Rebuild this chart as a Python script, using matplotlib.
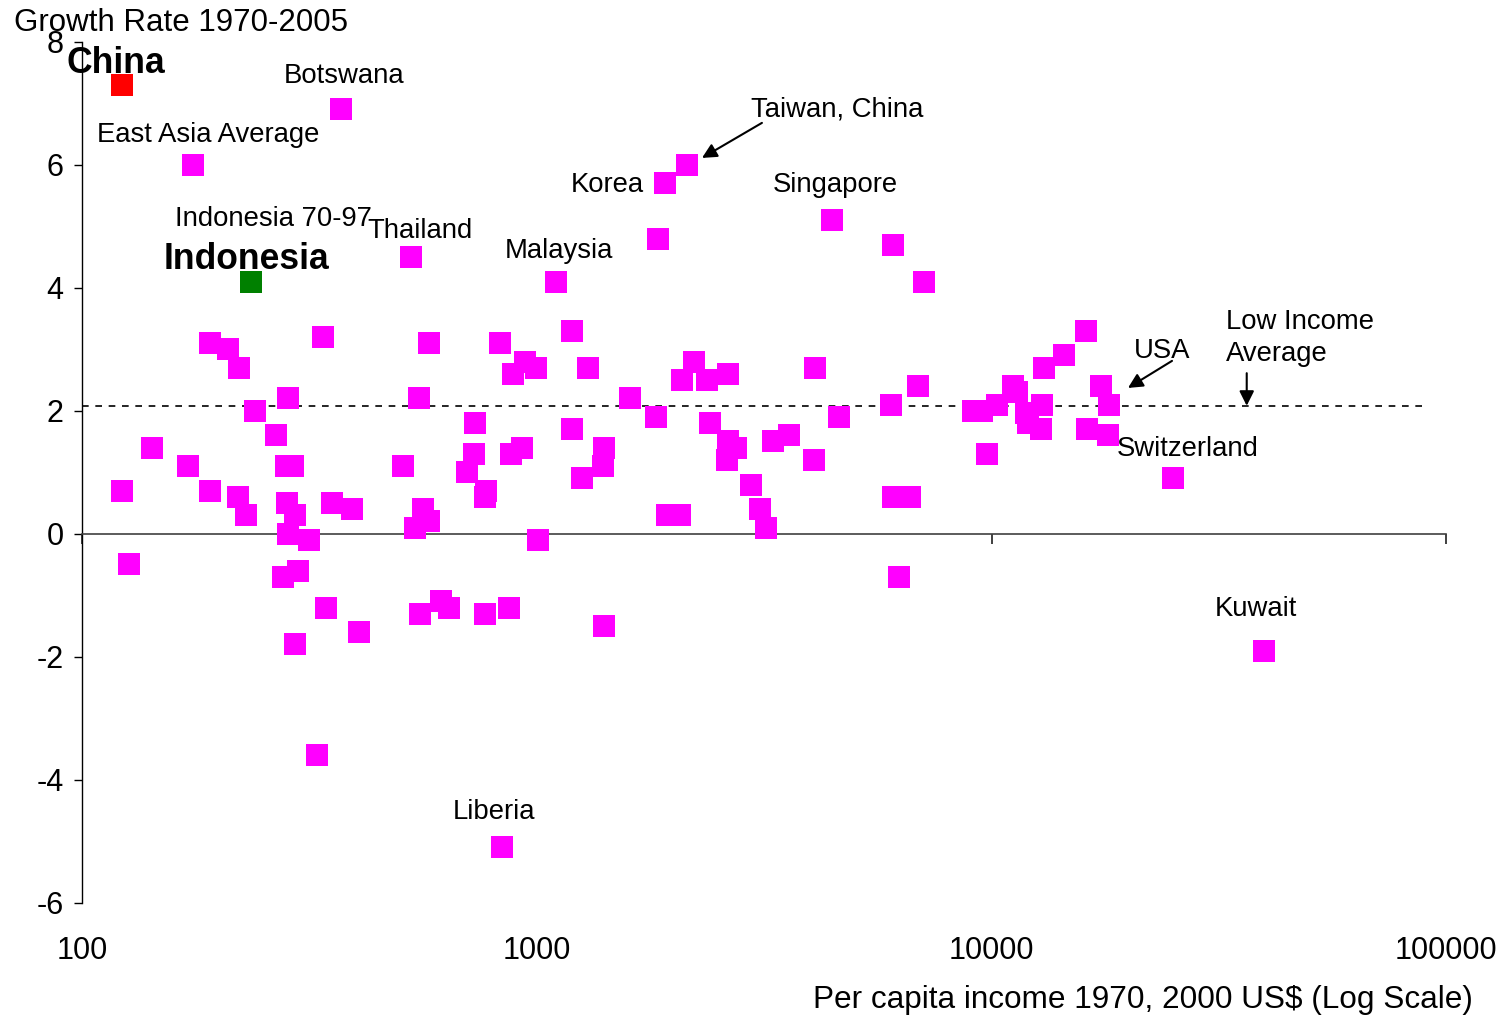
import matplotlib
matplotlib.use("Agg")
import matplotlib.pyplot as plt
import numpy as np

plt.rcParams['font.family'] = ['Liberation Sans', 'DejaVu Sans']
plt.rcParams['axes.unicode_minus'] = False

# per capita income 1970 (2000 US$) and average growth 1970-2005, all countries
income = [371, 175, 528, 2138, 1912, 1846, 4455, 1101, 6066, 7100,
          39700, 25050, 837, 328,
          191, 209, 221, 338, 283, 240, 267, 142, 171, 280,
          291, 122, 191, 220, 229, 282, 294, 354, 391, 284,
          315, 127, 276, 298, 343, 405, 293,
          578, 828, 1192, 943, 994, 884, 1295, 550, 1604, 1830,
          730, 1192, 508, 728, 701, 878, 928, 771, 769, 1404,
          1397, 1258, 561, 578, 540, 1003, 616, 640, 554, 770,
          868, 1402,
          2218, 2087, 2361, 2630, 4088, 4617, 2398, 2630, 2740, 2614,
          3309, 3577, 4065, 2955, 3097, 3184, 1929, 2063,
          6018, 6896, 6066, 6612, 6264,
          9098, 9521, 9741, 10290, 11150, 11380, 11880, 12040, 12820, 12900,
          13010, 14450, 16120, 16180, 17370, 18090, 17990]
growth = [6.9, 6.0, 4.5, 6.0, 5.7, 4.8, 5.1, 4.1, 4.7, 4.1,
          -1.9, 0.9, -5.1, -3.6,
          3.1, 3.0, 2.7, 3.2, 2.2, 2.0, 1.6, 1.4, 1.1, 1.1,
          1.1, 0.7, 0.7, 0.6, 0.3, 0.5, 0.3, 0.5, 0.4, 0.0,
          -0.1, -0.5, -0.7, -0.6, -1.2, -1.6, -1.8,
          3.1, 3.1, 3.3, 2.8, 2.7, 2.6, 2.7, 2.2, 2.2, 1.9,
          1.8, 1.7, 1.1, 1.3, 1.0, 1.3, 1.4, 0.7, 0.6, 1.4,
          1.1, 0.9, 0.4, 0.2, 0.1, -0.1, -1.1, -1.2, -1.3, -1.3,
          -1.2, -1.5,
          2.8, 2.5, 2.5, 2.6, 2.7, 1.9, 1.8, 1.5, 1.4, 1.2,
          1.5, 1.6, 1.2, 0.8, 0.4, 0.1, 0.3, 0.3,
          2.1, 2.4, 0.6, 0.6, -0.7,
          2.0, 2.0, 1.3, 2.1, 2.4, 2.3, 1.97, 1.8, 1.7, 2.1,
          2.7, 2.9, 3.3, 1.7, 2.4, 2.1, 1.6]

china = (122, 7.3)
indonesia = (235, 4.1)
low_income_avg = 2.07
avg_line_x = [100, 89000]

# plain labels: text, x, y (baseline left)
labels = [
    ("Botswana", 278, 7.33),
    ("East Asia Average", 108, 6.37),
    ("Taiwan, China", 2955, 6.79),
    ("Korea", 1188, 5.55),
    ("Singapore", 3304, 5.55),
    ("Indonesia 70-97", 160, 5.0),
    ("Thailand", 423, 4.81),
    ("Malaysia", 851, 4.48),
    ("Low Income", 32760, 3.33),
    ("Average", 32760, 2.81),
    ("USA", 20550, 2.86),
    ("Switzerland", 18860, 1.26),
    ("Kuwait", 30970, -1.34),
    ("Liberia", 654, -4.64),
]
bold_labels = [("China", 92.5, 7.49), ("Indonesia", 151.3, 4.30)]

# arrows: (tail, head)
arrows = [((3124, 6.68), (2306, 6.11)),
          ((24920, 2.81), (19940, 2.37)),
          ((36380, 2.61), (36380, 2.08))]

fig = plt.figure(figsize=(15.05, 10.17), dpi=100)
ax = fig.add_axes([82.3 / 1505, 1 - 902.7 / 1017, (1446.4 - 82.3) / 1505, (902.7 - 41.7) / 1017])

ax.plot(avg_line_x, [low_income_avg] * 2, color='black', lw=1.2, ls=(0, (4, 4)), zorder=1)
ax.scatter(income, growth, marker='s', s=250, color='#FF00FF', linewidths=0, zorder=3)
ax.scatter(*china, marker='s', s=250, color='#FF0000', linewidths=0, zorder=4)
ax.scatter(*indonesia, marker='s', s=250, color='#008000', linewidths=0, zorder=4)

ax.set_xscale('log')
ax.set_xlim(100, 100000)
ax.set_ylim(-6, 8)
ax.set_yticks(np.arange(-6, 9, 2))
ax.set_xticks([100, 1000, 10000, 100000])
ax.xaxis.set_minor_locator(matplotlib.ticker.NullLocator())

for s in ['top', 'right']:
    ax.spines[s].set_visible(False)
ax.spines['left'].set_linewidth(1.0)
ax.spines['bottom'].set_position(('data', 0))
ax.spines['bottom'].set_color('#404040')
ax.spines['bottom'].set_linewidth(1.2)
ax.tick_params(axis='x', direction='out', length=7, width=1.2, color='#202020', labelbottom=False)
ax.tick_params(axis='y', direction='out', length=6, width=1.0, pad=7.5, labelsize=22)

# x tick labels sit below the plot area
sec = ax.secondary_xaxis('bottom')
sec.set_xticks([100, 1000, 10000, 100000])
sec.set_xticklabels(['100', '1000', '10000', '100000'])
sec.xaxis.set_minor_locator(matplotlib.ticker.NullLocator())
sec.spines['bottom'].set_visible(False)
sec.tick_params(axis='x', length=0, pad=24, labelsize=22)

for txt, x, y in labels:
    ax.text(x, y, txt, fontsize=19.8, ha='left', va='baseline', zorder=5)
for txt, x, y in bold_labels:
    ax.text(x, y, txt, fontsize=25.6, fontweight='bold', ha='left', va='baseline', zorder=5)
for tail, head in arrows:
    ax.annotate('', xy=head, xytext=tail,
                arrowprops=dict(arrowstyle='-|>', color='black', lw=1.5,
                                mutation_scale=22, shrinkA=0, shrinkB=0))

fig.text(14 / 1505, 1 - 31 / 1017, "Growth Rate 1970-2005", fontsize=22.5, ha='left', va='baseline')
fig.text(1473 / 1505, 1 - 1008 / 1017, "Per capita income 1970, 2000 US$ (Log Scale)",
         fontsize=22.7, ha='right', va='baseline')

plt.savefig('out.png', dpi=100)
plt.close('all')
